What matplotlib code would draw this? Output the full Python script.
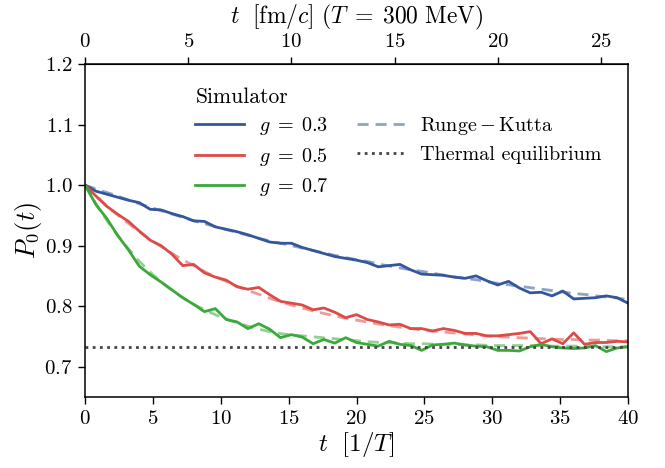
import numpy as np
import matplotlib
matplotlib.use("Agg")
import matplotlib.pyplot as plt

plt.rcParams['font.family'] = 'serif'
plt.rcParams['font.serif'] = ['cmr10', 'DejaVu Serif']
plt.rcParams['mathtext.fontset'] = 'cm'
plt.rcParams['axes.formatter.use_mathtext'] = True

# ---- data ----
t_sim = [0.8 * i for i in range(51)]
sim_g03 = [1.000, 0.990, 0.985, 0.980, 0.975, 0.971, 0.960, 0.959, 0.953, 0.948,
           0.941, 0.940, 0.931, 0.927, 0.923, 0.918, 0.912, 0.906, 0.904, 0.904,
           0.897, 0.892, 0.887, 0.882, 0.879, 0.876, 0.872, 0.865, 0.867, 0.869,
           0.860, 0.853, 0.852, 0.851, 0.848, 0.846, 0.850, 0.842, 0.835, 0.841,
           0.830, 0.822, 0.823, 0.817, 0.825, 0.812, 0.813, 0.814, 0.817, 0.814,
           0.805]
sim_g05 = [1.000, 0.982, 0.965, 0.952, 0.940, 0.924, 0.909, 0.900, 0.886, 0.867,
           0.869, 0.855, 0.848, 0.843, 0.832, 0.828, 0.831, 0.819, 0.808, 0.805,
           0.802, 0.794, 0.797, 0.790, 0.781, 0.786, 0.778, 0.774, 0.769, 0.770,
           0.763, 0.763, 0.759, 0.763, 0.760, 0.755, 0.755, 0.751, 0.751, 0.753,
           0.755, 0.758, 0.738, 0.746, 0.738, 0.756, 0.737, 0.740, 0.740, 0.742,
           0.741]
sim_g07 = [1.000, 0.968, 0.945, 0.917, 0.893, 0.866, 0.852, 0.840, 0.827, 0.814,
           0.803, 0.791, 0.796, 0.778, 0.774, 0.763, 0.771, 0.762, 0.748, 0.753,
           0.749, 0.738, 0.745, 0.739, 0.748, 0.740, 0.737, 0.734, 0.742, 0.737,
           0.735, 0.727, 0.736, 0.737, 0.739, 0.736, 0.734, 0.733, 0.727, 0.727,
           0.726, 0.733, 0.737, 0.733, 0.731, 0.730, 0.731, 0.735, 0.725, 0.731,
           0.733]

t_rk = list(range(41))
rk_g03 = [1.000, 0.992, 0.985, 0.977, 0.969, 0.962, 0.955, 0.948, 0.941, 0.935,
          0.929, 0.923, 0.917, 0.911, 0.906, 0.901, 0.896, 0.891, 0.886, 0.881,
          0.877, 0.873, 0.868, 0.864, 0.860, 0.857, 0.853, 0.849, 0.846, 0.843,
          0.839, 0.836, 0.833, 0.830, 0.827, 0.824, 0.821, 0.819, 0.816, 0.814,
          0.811]
rk_g05 = [1.000, 0.978, 0.958, 0.940, 0.923, 0.907, 0.893, 0.879, 0.867, 0.855,
          0.845, 0.835, 0.826, 0.818, 0.810, 0.803, 0.797, 0.791, 0.786, 0.781,
          0.777, 0.773, 0.769, 0.766, 0.763, 0.760, 0.758, 0.756, 0.754, 0.752,
          0.750, 0.749, 0.748, 0.747, 0.746, 0.745, 0.745, 0.744, 0.744, 0.743,
          0.743]
rk_g07 = [1.000, 0.962, 0.929, 0.900, 0.874, 0.852, 0.833, 0.817, 0.803, 0.792,
          0.782, 0.774, 0.767, 0.761, 0.756, 0.753, 0.751, 0.749, 0.747, 0.745,
          0.743, 0.741, 0.740, 0.739, 0.738, 0.738, 0.737, 0.737, 0.736, 0.736,
          0.735, 0.735, 0.735, 0.735, 0.734, 0.734, 0.734, 0.734, 0.733, 0.733,
          0.733]
thermal_eq = 0.733
g_labels = [r'$g\;=\;0.3$', r'$g\;=\;0.5$', r'$g\;=\;0.7$']
colors = ['#34569b', '#dc4b47', '#3aa93a']
T_MeV = 300.0
hbarc = 197.327  # MeV fm

fig = plt.figure(figsize=(6.65, 4.68), dpi=100)
ax = fig.add_axes([85/665, 1-397/468, 543/665, 333/468])

sims = [sim_g03, sim_g05, sim_g07]
rks = [rk_g03, rk_g05, rk_g07]
handles = []
for s, r, c, lab in zip(sims, rks, colors, g_labels):
    ax.plot(t_rk, r, ls=(0, (4, 2.5)), color=c, lw=2.0, alpha=0.55)
    h, = ax.plot(t_sim, s, color=c, lw=2.0, label=lab)
    handles.append(h)

h_rk, = ax.plot([], [], ls=(0, (4, 2.5)), color=colors[0], lw=2.0, alpha=0.55,
                label=r'$\mathrm{Runge-Kutta}$')
h_th = ax.axhline(thermal_eq, color='#444444', ls=(0, (1, 1.6)), lw=2.0,
                  label='Thermal equilibrium')
handles += [h_rk, h_th]

ax.set_xlim(0, 40)
ax.set_ylim(0.65, 1.2)
ax.set_xticks([0, 5, 10, 15, 20, 25, 30, 35, 40])
ax.set_yticks([0.7, 0.8, 0.9, 1.0, 1.1, 1.2])
ax.tick_params(direction='out', length=5, width=1, labelsize=15, pad=4)
ax.set_xlabel(r'$t\ \ [1/T]$', fontsize=18, labelpad=2)
ax.set_ylabel(r'$P_0(t)$', fontsize=19, labelpad=0)
for sp in ax.spines.values():
    sp.set_linewidth(1.1)

conv = hbarc / T_MeV
sec = ax.secondary_xaxis('top', functions=(lambda x: x * conv, lambda x: x / conv))
sec.set_xticks([0, 5, 10, 15, 20, 25])
sec.tick_params(direction='out', length=5, width=1, labelsize=15, pad=4)
sec.set_xlabel(r'$t\ \ [\mathrm{fm}/c]\ (T\;=\;300\ \mathrm{MeV})$', fontsize=17, labelpad=7)

leg = ax.legend(handles=handles, ncol=2, frameon=False, title='Simulator',
                fontsize=14.5, title_fontsize=15.5, loc='upper left',
                bbox_to_anchor=(0.17, 0.985), handlelength=2.4, columnspacing=1.4,
                labelspacing=0.42, handletextpad=0.75)
leg._legend_box.align = 'left'

fig.savefig('out.png', dpi=100)
